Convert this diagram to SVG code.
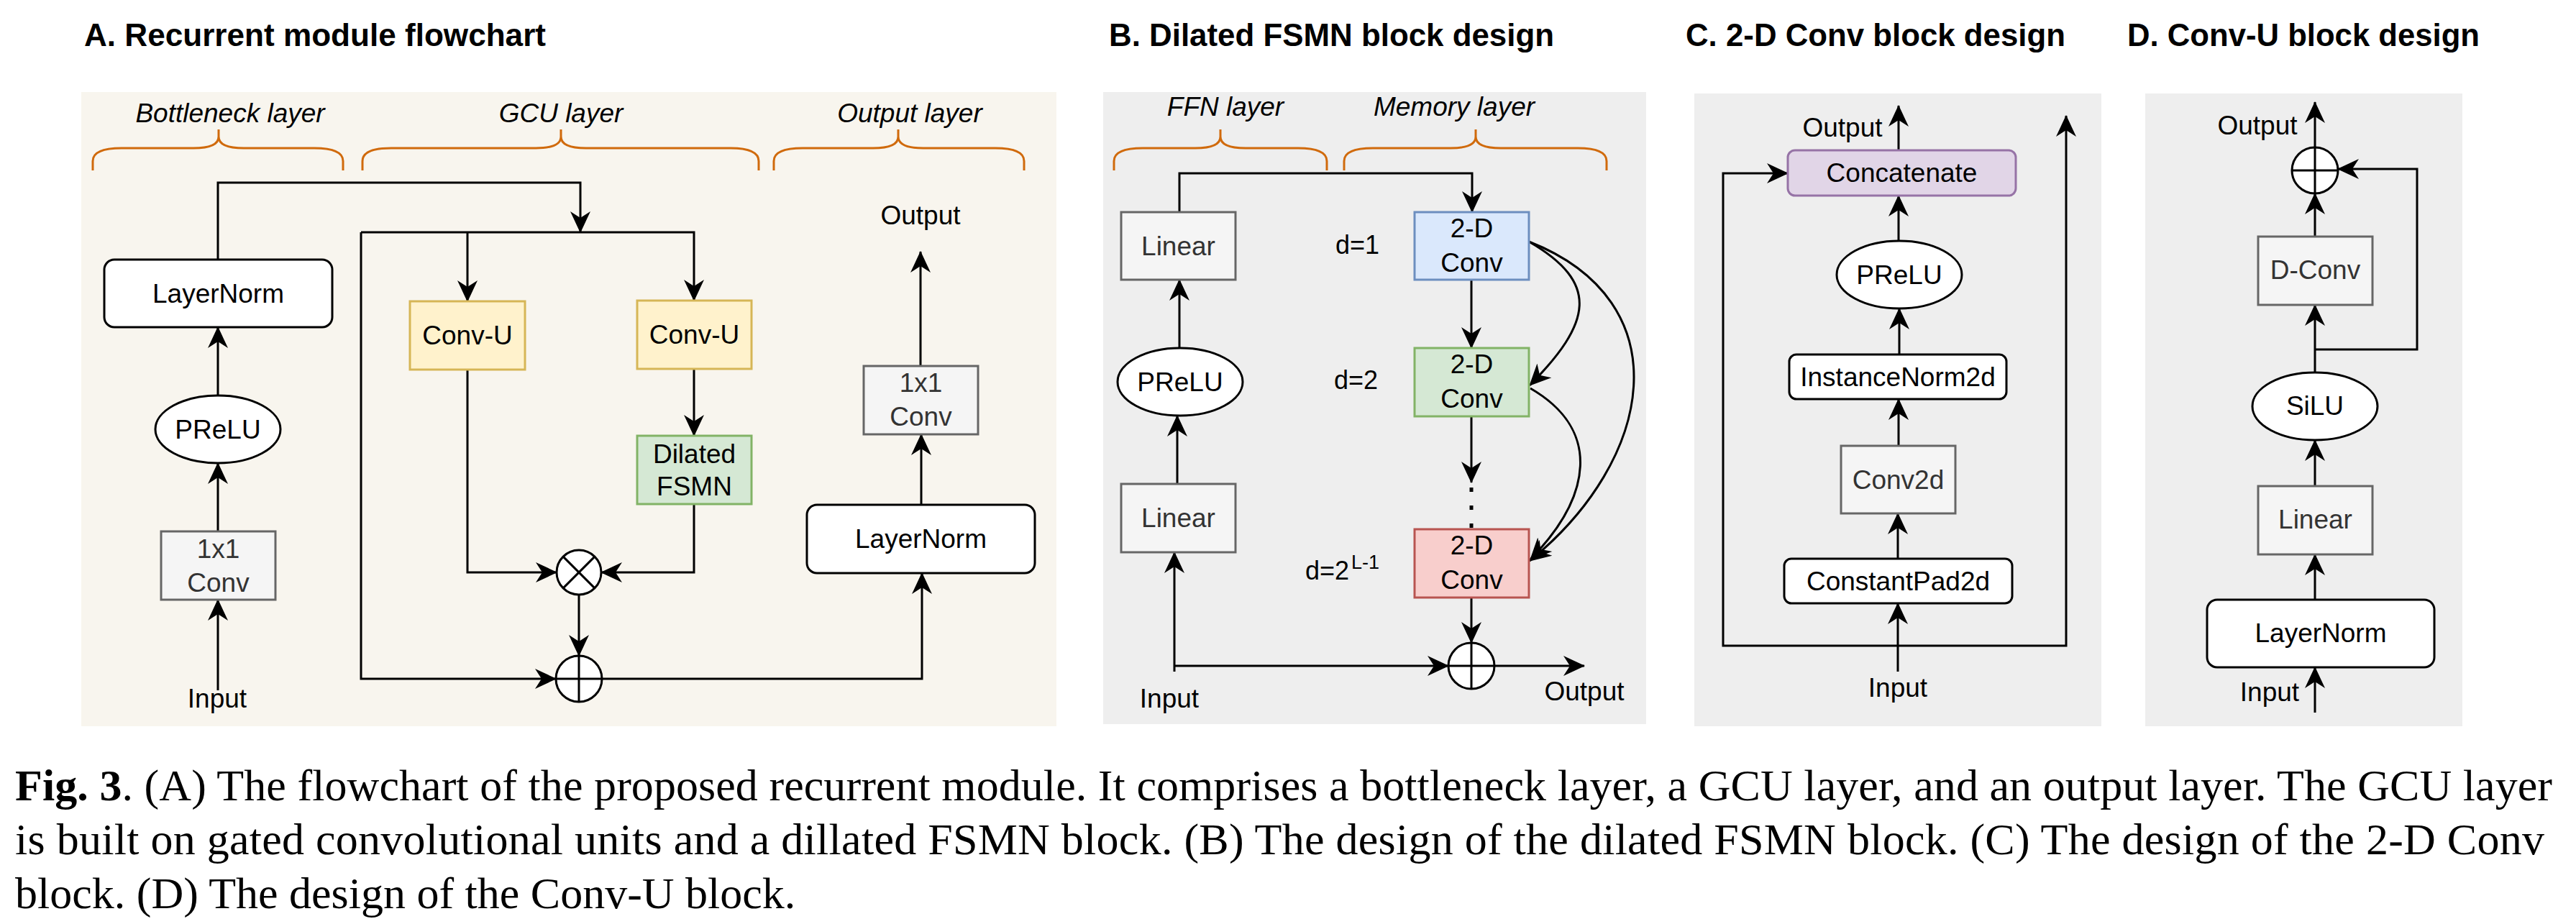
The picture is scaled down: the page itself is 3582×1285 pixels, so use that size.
<svg xmlns="http://www.w3.org/2000/svg" width="3582" height="1285" viewBox="0 0 3582 1285">
<style>
text{font-family:"Liberation Sans",Arial,sans-serif;fill:#000}
.ttl{font-weight:bold;font-size:45px}
.lbl{font-size:37px;text-anchor:middle}
.gl{font-size:37px;text-anchor:middle;fill:#333}
.lay{font-size:37px;font-style:italic;text-anchor:middle}
.dl{font-size:36px}
.cap{font-family:"Liberation Serif","Times New Roman",serif;font-size:62px}
.brace{fill:none;stroke:#D06A0C;stroke-width:3}
.wbox{fill:#fff;stroke:#000;stroke-width:3}
.gbox{fill:#F5F5F5;stroke:#666;stroke-width:3}
.ybox{fill:#FFF2CC;stroke:#D6B656;stroke-width:3}
.grbox{fill:#D5E8D4;stroke:#82B366;stroke-width:3}
.bbox{fill:#DAE8FC;stroke:#6C8EBF;stroke-width:3}
.rbox{fill:#F8CECC;stroke:#B85450;stroke-width:3}
.pbox{fill:#E1D5E7;stroke:#9673A6;stroke-width:3}
.op{fill:#fff;stroke:#000;stroke-width:3}
.opl{stroke:#000;stroke-width:3}
.e{fill:none;stroke:#000;stroke-width:3;marker-end:url(#ar)}
.ln{fill:none;stroke:#000;stroke-width:3}
</style>
<defs>
<marker id="ar" markerUnits="userSpaceOnUse" viewBox="0 0 30 30" refX="29" refY="15" markerWidth="30" markerHeight="30" orient="auto">
<path d="M0,1 L30,15 L0,29 L9,15 Z" fill="#000"/>
</marker>
</defs>

<!-- Panel backgrounds -->
<rect x="113" y="128" width="1356" height="882" fill="#F8F5EE"/>
<rect x="1534" y="128" width="755" height="879" fill="#EEEEEE"/>
<rect x="2356" y="130" width="566" height="880" fill="#EEEEEE"/>
<rect x="2983" y="130" width="441" height="880" fill="#EEEEEE"/>

<!-- Titles -->
<text class="ttl" x="117" y="64" textLength="642" lengthAdjust="spacingAndGlyphs">A. Recurrent module flowchart</text>
<text class="ttl" x="1542" y="64" textLength="619" lengthAdjust="spacingAndGlyphs">B. Dilated FSMN block design</text>
<text class="ttl" x="2344" y="64" textLength="528" lengthAdjust="spacingAndGlyphs">C. 2-D Conv block design</text>
<text class="ttl" x="2958" y="64" textLength="490" lengthAdjust="spacingAndGlyphs">D. Conv-U block design</text>

<!-- Braces and layer labels -->
<g id="braces">
<path class="brace" d="M129,237 L129,224 C129,212 141,206 169,206 L269,206 C294,206 304,200 304,190 L304,180 M304,190 C304,200 314,206 339,206 L437,206 C465,206 477,212 477,224 L477,237"/>
<path class="brace" d="M504,237 L504,224 C504,212 516,206 544,206 L745,206 C770,206 780,200 780,190 L780,180 M780,190 C780,200 790,206 815,206 L1015,206 C1043,206 1055,212 1055,224 L1055,237"/>
<path class="brace" d="M1076,237 L1076,224 C1076,212 1088,206 1116,206 L1214,206 C1239,206 1249,200 1249,190 L1249,180 M1249,190 C1249,200 1259,206 1284,206 L1384,206 C1412,206 1424,212 1424,224 L1424,237"/>
<path class="brace" d="M1549,237 L1549,224 C1549,212 1561,206 1589,206 L1662,206 C1687,206 1697,200 1697,190 L1697,180 M1697,190 C1697,200 1707,206 1732,206 L1805,206 C1833,206 1845,212 1845,224 L1845,237"/>
<path class="brace" d="M1869,237 L1869,224 C1869,212 1881,206 1909,206 L2017,206 C2042,206 2052,200 2052,190 L2052,180 M2052,190 C2052,200 2062,206 2087,206 L2194,206 C2222,206 2234,212 2234,224 L2234,237"/>
<text class="lay" x="320" y="170">Bottleneck layer</text>
<text class="lay" x="780" y="170">GCU layer</text>
<text class="lay" x="1265" y="170">Output layer</text>
<text class="lay" x="1704" y="161">FFN layer</text>
<text class="lay" x="2022" y="161">Memory layer</text>
</g>

<!-- Connectors -->
<g id="connectors">
<!-- Panel A -->
<path class="e" d="M303,960 L303,834"/>
<path class="e" d="M303,739 L303,644"/>
<path class="e" d="M303,550 L303,455"/>
<path class="e" d="M303,361 L303,254 L807,254 L807,323"/>
<path class="e" d="M502,323 L965,323 L965,418"/>
<path class="e" d="M650,323 L650,419"/>
<path class="e" d="M502,323 L502,944 L773,944"/>
<path class="e" d="M650,514 L650,796 L774,796"/>
<path class="e" d="M965,513 L965,606"/>
<path class="e" d="M965,701 L965,796 L836,796"/>
<path class="e" d="M805,827 L805,912"/>
<path class="e" d="M837,944 L1282,944 L1282,797"/>
<path class="e" d="M1281,702 L1281,604"/>
<path class="e" d="M1280,509 L1280,350"/>
<!-- Panel B -->
<path class="e" d="M1633,934 L1633,768"/>
<path class="e" d="M1633,926 L2014,926"/>
<path class="e" d="M1637,673 L1637,578"/>
<path class="e" d="M1640,484 L1640,389"/>
<path class="e" d="M1640,295 L1640,241 L2047,241 L2047,295"/>
<path class="e" d="M2046,389 L2046,484"/>
<path class="e" d="M2046,579 L2046,671"/>
<line x1="2046" y1="678" x2="2046" y2="736" stroke="#000" stroke-width="5" stroke-dasharray="6 19"/>
<path class="e" d="M2046,831 L2046,894"/>
<path class="e" d="M2078,926 L2203,926"/>
<path class="e" d="M2126,336 C2226,394 2213,449 2127,536"/>
<path class="e" d="M2126,336 C2340,420 2300,640 2127,780"/>
<path class="e" d="M2128,540 C2228,598 2213,691 2128,778"/>
<!-- Panel C -->
<path class="e" d="M2639,934 L2639,839"/>
<path class="e" d="M2639,777 L2639,714"/>
<path class="e" d="M2640,620 L2640,555"/>
<path class="e" d="M2641,493 L2641,429"/>
<path class="e" d="M2640,335 L2640,272"/>
<path class="e" d="M2640,209 L2640,147"/>
<path class="e" d="M2639,898 L2396,898 L2396,241 L2486,241"/>
<path class="e" d="M2639,898 L2873,898 L2873,161"/>
<!-- Panel D -->
<path class="e" d="M3219,991 L3219,928"/>
<path class="e" d="M3219,834 L3219,771"/>
<path class="e" d="M3219,676 L3219,612"/>
<path class="e" d="M3219,518 L3219,424"/>
<path class="e" d="M3219,486 L3361,486 L3361,235 L3251,235"/>
<path class="e" d="M3219,329 L3219,269"/>
<path class="e" d="M3219,205 L3219,142"/>
</g>

<!-- Panel A nodes -->
<g id="a-layernorm1"><rect class="wbox" x="145" y="361" width="317" height="94" rx="14"/><text class="lbl" x="303.5" y="421">LayerNorm</text></g>
<g id="a-prelu"><ellipse class="wbox" cx="303" cy="597" rx="87" ry="47"/><text class="lbl" x="303" y="610">PReLU</text></g>
<g id="a-conv1x1-in"><rect class="gbox" x="224" y="739" width="159" height="95"/><text class="gl" x="303.5" y="776">1x1</text><text class="gl" x="303.5" y="823">Conv</text></g>
<g id="a-input"><text class="lbl" x="302" y="984">Input</text></g>
<g id="a-convu1"><rect class="ybox" x="570" y="419" width="160" height="95"/><text class="lbl" x="650" y="479">Conv-U</text></g>
<g id="a-convu2"><rect class="ybox" x="886" y="418" width="159" height="95"/><text class="lbl" x="965.5" y="478">Conv-U</text></g>
<g id="a-fsmn"><rect class="grbox" x="886" y="606" width="159" height="95"/><text class="lbl" x="965.5" y="644">Dilated</text><text class="lbl" x="965.5" y="689">FSMN</text></g>
<g id="a-mult"><circle class="op" cx="805" cy="796" r="31"/><line class="opl" x1="783.1" y1="774.1" x2="826.9" y2="817.9"/><line class="opl" x1="826.9" y1="774.1" x2="783.1" y2="817.9"/></g>
<g id="a-plus"><circle class="op" cx="805" cy="944" r="32"/><line class="opl" x1="773" y1="944" x2="837" y2="944"/><line class="opl" x1="805" y1="912" x2="805" y2="976"/></g>
<g id="a-layernorm2"><rect class="wbox" x="1122" y="702" width="317" height="95" rx="14"/><text class="lbl" x="1280.5" y="762">LayerNorm</text></g>
<g id="a-conv1x1-out"><rect class="gbox" x="1201" y="509" width="159" height="95"/><text class="gl" x="1280.5" y="545">1x1</text><text class="gl" x="1280.5" y="592">Conv</text></g>
<g id="a-output"><text class="lbl" x="1280" y="312">Output</text></g>

<!-- Panel B nodes -->
<g id="b-linear-top"><rect class="gbox" x="1559" y="295" width="159" height="94"/><text class="gl" x="1638.5" y="355">Linear</text></g>
<g id="b-prelu"><ellipse class="wbox" cx="1641" cy="531" rx="87" ry="47"/><text class="lbl" x="1641" y="544">PReLU</text></g>
<g id="b-linear-bottom"><rect class="gbox" x="1559" y="673" width="159" height="95"/><text class="gl" x="1638.5" y="733">Linear</text></g>
<g id="b-input"><text class="lbl" x="1626" y="984">Input</text></g>
<g id="b-conv1"><rect class="bbox" x="1967" y="295" width="159" height="94"/><text class="lbl" x="2046.5" y="330">2-D</text><text class="lbl" x="2046.5" y="378">Conv</text></g>
<g id="b-conv2"><rect class="grbox" x="1967" y="484" width="159" height="95"/><text class="lbl" x="2046.5" y="519">2-D</text><text class="lbl" x="2046.5" y="567">Conv</text></g>
<g id="b-conv3"><rect class="rbox" x="1967" y="736" width="159" height="95"/><text class="lbl" x="2046.5" y="771">2-D</text><text class="lbl" x="2046.5" y="819">Conv</text></g>
<g id="b-plus"><circle class="op" cx="2046" cy="926" r="32"/><line class="opl" x1="2014" y1="926" x2="2078" y2="926"/><line class="opl" x1="2046" y1="894" x2="2046" y2="958"/></g>
<g id="b-output"><text class="lbl" x="2203" y="974">Output</text></g>
<g id="b-dlabels">
<text class="dl" x="1918" y="353" text-anchor="end">d=1</text>
<text class="dl" x="1916" y="541" text-anchor="end">d=2</text>
<text class="dl" x="1815" y="806">d=2</text><text x="1879" y="791" font-size="27">L-1</text>
</g>

<!-- Panel C nodes -->
<g id="c-concat"><rect class="pbox" x="2486" y="209" width="317" height="63" rx="10"/><text class="lbl" x="2644.5" y="253">Concatenate</text></g>
<g id="c-output"><text class="lbl" x="2562" y="190">Output</text></g>
<g id="c-prelu"><ellipse class="wbox" cx="2641" cy="382" rx="87" ry="47"/><text class="lbl" x="2641" y="395">PReLU</text></g>
<g id="c-instnorm"><rect class="wbox" x="2488" y="493" width="302" height="62" rx="10"/><text class="lbl" x="2639" y="537">InstanceNorm2d</text></g>
<g id="c-conv2d"><rect class="gbox" x="2560" y="620" width="159" height="94"/><text class="gl" x="2639.5" y="680">Conv2d</text></g>
<g id="c-pad"><rect class="wbox" x="2481" y="777" width="317" height="62" rx="10"/><text class="lbl" x="2639.5" y="821">ConstantPad2d</text></g>
<g id="c-input"><text class="lbl" x="2639" y="969">Input</text></g>

<!-- Panel D nodes -->
<g id="d-plus"><circle class="op" cx="3219" cy="237" r="32"/><line class="opl" x1="3187" y1="237" x2="3251" y2="237"/><line class="opl" x1="3219" y1="205" x2="3219" y2="269"/></g>
<g id="d-output"><text class="lbl" x="3139" y="187">Output</text></g>
<g id="d-dconv"><rect class="gbox" x="3140" y="329" width="159" height="95"/><text class="gl" x="3219.5" y="388">D-Conv</text></g>
<g id="d-silu"><ellipse class="wbox" cx="3219" cy="565" rx="87" ry="47"/><text class="lbl" x="3219" y="577">SiLU</text></g>
<g id="d-linear"><rect class="gbox" x="3140" y="676" width="159" height="95"/><text class="gl" x="3219.5" y="735">Linear</text></g>
<g id="d-layernorm"><rect class="wbox" x="3069" y="834" width="316" height="94" rx="14"/><text class="lbl" x="3227" y="893">LayerNorm</text></g>
<g id="d-input"><text class="lbl" x="3156" y="975">Input</text></g>

<!-- Caption -->
<g id="caption">
<text class="cap" x="21" y="1113" textLength="3528" lengthAdjust="spacing"><tspan font-weight="bold">Fig. 3</tspan>. (A) The flowchart of the proposed recurrent module. It comprises a bottleneck layer, a GCU layer, and an output layer. The GCU layer</text>
<text class="cap" x="21" y="1188" textLength="3517" lengthAdjust="spacing">is built on gated convolutional units and a dillated FSMN block. (B) The design of the dilated FSMN block. (C) The design of the 2-D Conv</text>
<text class="cap" x="21" y="1263">block. (D) The design of the Conv-U block.</text>
</g>
</svg>
